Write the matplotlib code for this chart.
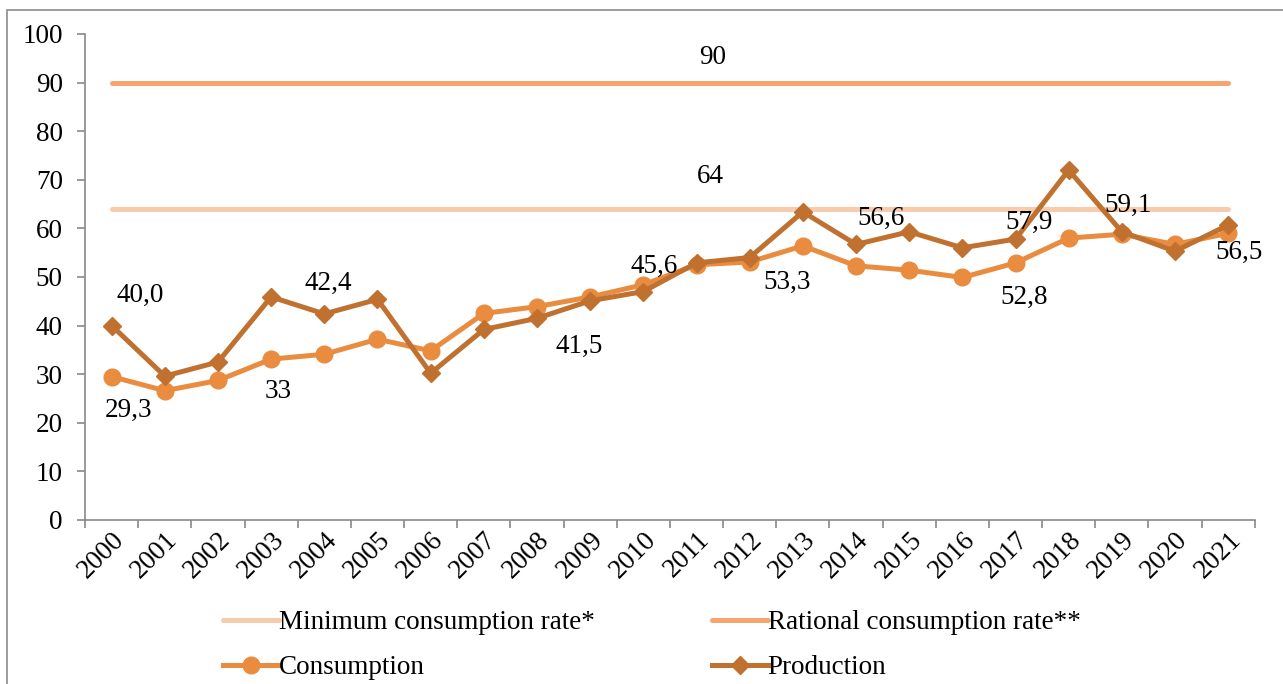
import numpy as np
import matplotlib
matplotlib.use('Agg')
import matplotlib.pyplot as plt
from matplotlib.patches import Rectangle

plt.rcParams['font.family'] = ['Liberation Serif', 'DejaVu Serif']

years = [str(y) for y in range(2000, 2022)]
consumption = [29.5, 26.6, 28.7, 33.1, 34.1, 37.2, 34.8, 42.5, 43.9, 45.9, 48.4,
               52.5, 53.1, 56.4, 52.3, 51.4, 49.9, 52.9, 58.0, 58.8, 56.7, 59.0]
production = [40.0, 29.6, 32.5, 45.9, 42.4, 45.4, 30.2, 39.2, 41.5, 45.1, 47.0,
              52.9, 54.0, 63.4, 56.7, 59.3, 56.0, 57.8, 72.0, 59.3, 55.3, 60.7]
min_rate = 64
rational_rate = 90

# data labels as they sit in the source chart (text, x index, y)
label_text = ['90', '64', '40,0', '29,3', '33', '42,4', '41,5', '45,6',
              '53,3', '56,6', '57,9', '52,8', '59,1', '56,5']
label_x = [11.30, 11.27, 0.54, 0.31, 3.13, 4.07, 8.80, 10.20,
           12.70, 14.48, 17.26, 17.17, 19.11, 21.21]
label_y = [95.1, 70.6, 46.3, 22.6, 26.5, 48.6, 35.8, 52.1,
           48.8, 62.1, 61.3, 45.9, 64.8, 55.1]

c_min = '#F8CBAD'
c_rat = '#F7A56E'
c_cons = '#E98C3F'
c_prod = '#C0712F'

FS = 19.5

fig = plt.figure(figsize=(12.83, 6.84), dpi=100)
ax = fig.add_axes([0.0663, 0.2398, 0.9117, 0.7105])

x = np.arange(len(years))
ax.plot(x, [min_rate]*len(x), color=c_min, lw=3.6, solid_capstyle='round',
        label='Minimum consumption rate*')
ax.plot(x, [rational_rate]*len(x), color=c_rat, lw=3.6, solid_capstyle='round',
        label='Rational consumption rate**')
ax.plot(x, consumption, color=c_cons, lw=3.6, marker='o', ms=12,
        label='Consumption')
ax.plot(x, production, color=c_prod, lw=3.6, marker='D', ms=9.5,
        label='Production')

for t, lx, ly in zip(label_text, label_x, label_y):
    ax.text(lx, ly, t, ha='center', va='center', fontsize=FS, color='black')

ax.set_xlim(-0.5, len(years) - 0.5)
ax.set_ylim(0, 100)
ax.set_yticks(range(0, 101, 10))
ax.set_xticks(np.arange(-0.5, len(years), 1), minor=False)
ax.set_xticklabels([])
ax.set_xticks(x, minor=True)
ax.set_xticklabels(years, minor=True, rotation=45, ha='right', va='top',
                   rotation_mode='anchor', fontsize=FS)
ax.tick_params(axis='x', which='minor', length=0, pad=5)
ax.tick_params(axis='x', which='major', length=6, color='#898989', width=1.2)
ax.tick_params(axis='y', length=6, color='#898989', width=1.2, labelsize=FS, pad=10)

for s in ['top', 'right']:
    ax.spines[s].set_visible(False)
for s in ['left', 'bottom']:
    ax.spines[s].set_color('#898989')
    ax.spines[s].set_linewidth(1.2)

h, l = ax.get_legend_handles_labels()
order = [0, 2, 1, 3]
fig.legend([h[i] for i in order], [l[i] for i in order], ncol=2,
           loc='upper left', bbox_to_anchor=(0.1655, 0.124), frameon=False,
           fontsize=FS, handlelength=2.07, handletextpad=0.0,
           columnspacing=4.3, labelspacing=0.75, borderaxespad=0)

# outer chart frame
fig.add_artist(Rectangle((7/1283, -0.1), 1.2, 1 - 10/684 + 0.1,
                         transform=fig.transFigure, fill=False,
                         edgecolor='#8c8c8c', lw=1.2))

fig.savefig('out.png', dpi=100)
